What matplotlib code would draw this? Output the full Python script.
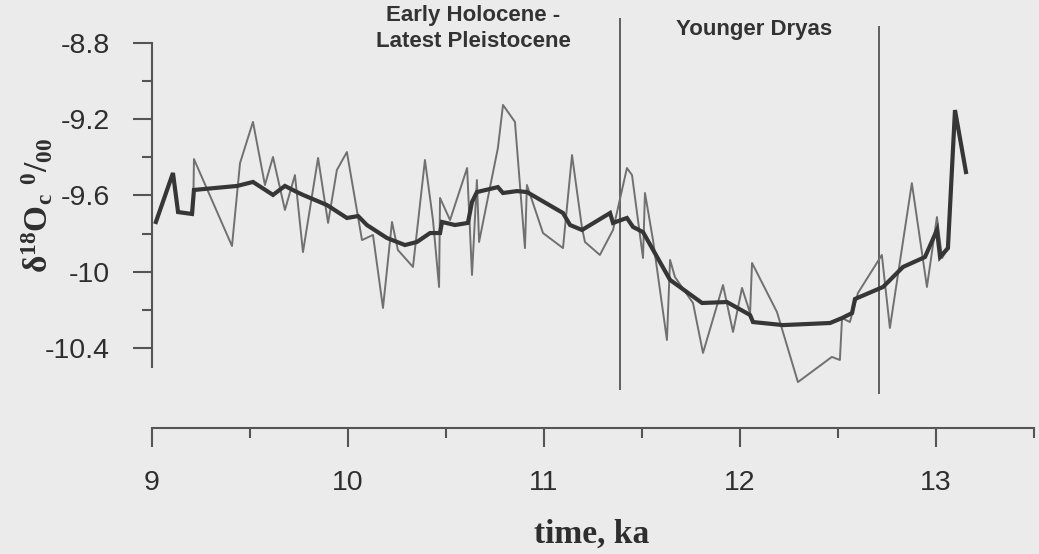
import matplotlib
matplotlib.use("Agg")
import matplotlib.pyplot as plt
from matplotlib.ticker import FixedLocator, MultipleLocator

plt.rcParams['axes.unicode_minus'] = False
plt.rcParams['mathtext.fontset'] = 'custom'
plt.rcParams['mathtext.rm'] = 'Liberation Serif:bold'
plt.rcParams['mathtext.it'] = 'Liberation Serif:bold'
plt.rcParams['mathtext.bf'] = 'Liberation Serif:bold'

# raw delta-18O record (ka, permil)
raw_age = [9.212, 9.216, 9.410, 9.451, 9.517, 9.578, 9.619, 9.680, 9.731, 9.772,
           9.849, 9.900, 9.945, 9.996, 10.073, 10.129, 10.180, 10.226, 10.256, 10.333,
           10.394, 10.435, 10.466, 10.471, 10.522, 10.609, 10.634, 10.659, 10.670, 10.766,
           10.792, 10.853, 10.904, 10.914, 10.996, 11.098, 11.144, 11.195, 11.210, 11.286,
           11.353, 11.424, 11.450, 11.506, 11.516, 11.557, 11.628, 11.644, 11.669, 11.761,
           11.812, 11.914, 11.965, 12.011, 12.052, 12.062, 12.189, 12.296, 12.469, 12.510,
           12.521, 12.561, 12.602, 12.724, 12.765, 12.877, 12.954, 13.005, 13.031, 13.061]
raw_d18o = [-9.692, -9.409, -9.865, -9.430, -9.214, -9.545, -9.398, -9.676, -9.493, -9.897,
            -9.403, -9.744, -9.466, -9.372, -9.834, -9.807, -10.190, -9.739, -9.886, -9.975,
            -9.414, -9.729, -10.080, -9.613, -9.729, -9.456, -10.017, -9.519, -9.844, -9.351,
            -9.125, -9.214, -9.876, -9.545, -9.797, -9.876, -9.388, -9.771, -9.844, -9.912,
            -9.781, -9.456, -9.493, -9.928, -9.587, -9.834, -10.358, -9.938, -10.028, -10.164,
            -10.426, -10.070, -10.316, -10.085, -10.217, -9.954, -10.211, -10.579, -10.447, -10.463,
            -10.243, -10.264, -10.112, -9.912, -10.295, -9.535, -10.080, -9.713, -9.928, -9.876]

# smoothed curve
smooth_age = [9.022, 9.109, 9.135, 9.206, 9.216, 9.436, 9.517, 9.619, 9.680, 9.741,
              9.772, 9.894, 9.996, 10.053, 10.098, 10.200, 10.292, 10.353, 10.420, 10.471,
              10.481, 10.547, 10.613, 10.634, 10.659, 10.766, 10.792, 10.863, 10.914, 11.098,
              11.134, 11.195, 11.338, 11.353, 11.424, 11.455, 11.506, 11.644, 11.694, 11.807,
              11.934, 12.052, 12.067, 12.220, 12.460, 12.521, 12.572, 12.587, 12.730, 12.832,
              12.944, 13.005, 13.021, 13.061, 13.097, 13.153]
smooth_d18o = [-9.739, -9.482, -9.687, -9.697, -9.571, -9.550, -9.529, -9.597, -9.550, -9.582,
               -9.597, -9.650, -9.718, -9.708, -9.755, -9.823, -9.860, -9.844, -9.797, -9.797,
               -9.739, -9.755, -9.744, -9.634, -9.582, -9.556, -9.587, -9.577, -9.582, -9.692,
               -9.755, -9.781, -9.692, -9.744, -9.718, -9.765, -9.792, -10.043, -10.080, -10.164,
               -10.159, -10.227, -10.264, -10.280, -10.269, -10.243, -10.217, -10.143, -10.080, -9.975,
               -9.923, -9.781, -9.923, -9.876, -9.152, -9.477]

# period boundaries
boundary_age = [11.39, 12.71]
boundary_top = [-8.67, -8.71]
boundary_bottom = [-10.62, -10.64]

y_major = [-8.8, -9.2, -9.6, -10.0, -10.4]
y_labels = ['-8.8', '-9.2', '-9.6', '-10', '-10.4']
y_minor = [-9.0, -9.4, -9.8, -10.2]
x_major = [9, 10, 11, 12, 13]

bg = '#ebebeb'
fig = plt.figure(figsize=(10.39, 5.54), dpi=100, facecolor=bg)
ax = fig.add_axes([0.1459, 0.2274, 0.8493, 0.7638])
ax.set_facecolor(bg)

ax.plot(raw_age, raw_d18o, color='#707070', lw=1.4, zorder=2)
ax.plot(smooth_age, smooth_d18o, color='#363636', lw=3.0, zorder=3,
        solid_joinstyle='miter')
for xa, top, bot in zip(boundary_age, boundary_top, boundary_bottom):
    ax.vlines(xa, bot, top, color='#555555', lw=1.3, zorder=1)

ax.text(10.64, -8.725, 'Early Holocene -\nLatest Pleistocene', ha='center', va='center',
        fontsize=16, fontweight='bold', color='#333333', family='Liberation Sans',
        linespacing=1.3)
ax.text(12.07, -8.73, 'Younger Dryas', ha='center', va='center',
        fontsize=16, fontweight='bold', color='#333333', family='Liberation Sans')

ax.set_xlim(9, 13.5)
ax.set_ylim(-10.82, -8.6)

for side in ['top', 'right']:
    ax.spines[side].set_visible(False)
ax.spines['left'].set_bounds(-10.5, -8.8)
ax.spines['bottom'].set_bounds(9, 13.5)
for side in ['left', 'bottom']:
    ax.spines[side].set_color('#555555')
    ax.spines[side].set_linewidth(1.5)

ax.yaxis.set_major_locator(FixedLocator(y_major))
ax.set_yticklabels(y_labels)
ax.yaxis.set_minor_locator(FixedLocator(y_minor))
ax.xaxis.set_major_locator(FixedLocator(x_major))
ax.xaxis.set_minor_locator(MultipleLocator(0.5))

ax.tick_params(which='major', length=14, width=1.5, color='#555555',
               labelsize=20.5, labelcolor='#2e2e2e', pad=16)
ax.tick_params(which='minor', length=7, width=1.5, color='#555555')
for lab in ax.get_xticklabels() + ax.get_yticklabels():
    lab.set_family('Liberation Sans')

ax.set_xlabel('time, ka', fontsize=24, fontweight='bold', family='Liberation Serif',
              color='#2e2e2e')
ax.xaxis.set_label_coords(0.499, -0.215)
ax.set_ylabel(r'$\mathrm{\delta}^{18}\mathrm{O}_{c}\ {}^{0}/_{00}$', fontsize=24,
              color='#2e2e2e', rotation=90, ha='center', va='center')
ax.yaxis.set_label_coords(-0.129, 0.527)

fig.savefig('out.png', dpi=100, facecolor=bg)
